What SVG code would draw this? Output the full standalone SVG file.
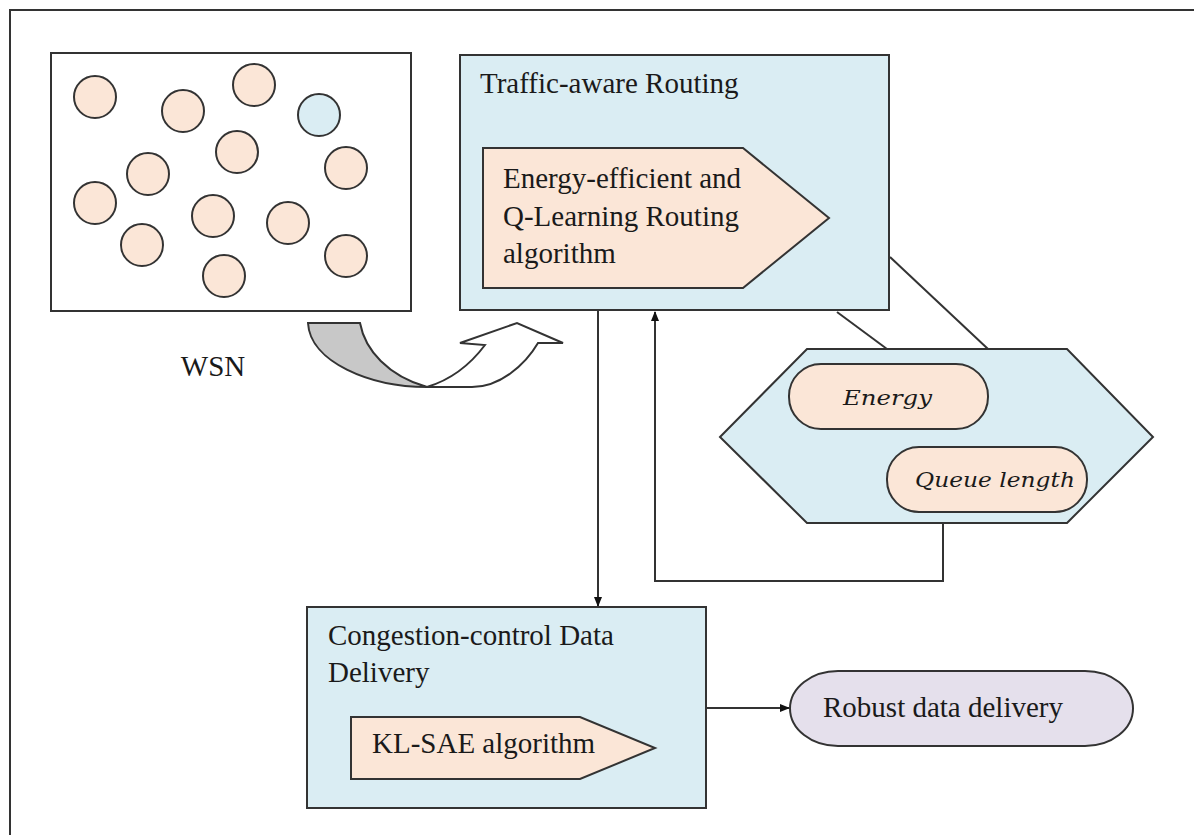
<svg xmlns="http://www.w3.org/2000/svg" width="1194" height="835" viewBox="0 0 1194 835">
<defs>
<style>
.t{font-family:"Liberation Serif","Times New Roman",serif;font-size:29px;fill:#1a1a1a}
.m{font-family:"DejaVu Serif",serif;font-style:italic;font-size:21px;fill:#1a1a1a}
.ln{fill:none;stroke:#333;stroke-width:2}
.peach{fill:#fbe6d7;stroke:#333;stroke-width:2}
.blue{fill:#daedf3;stroke:#333;stroke-width:2}
.node{fill:#fbe6d7;stroke:#333;stroke-width:2}
</style>
<marker id="ah" markerWidth="10" markerHeight="10" refX="9" refY="5" orient="auto" markerUnits="userSpaceOnUse">
<path d="M0,1 L10,5 L0,9 Z" fill="#111"/>
</marker>
</defs>
<rect width="1194" height="835" fill="#fff"/>
<rect x="10" y="10" width="1200" height="840" fill="none" stroke="#333" stroke-width="2"/>

<g id="wsn">
<rect x="51" y="53" width="360" height="258" fill="#fff" stroke="#333" stroke-width="2"/>
<circle class="node" cx="95" cy="97" r="21"/>
<circle class="node" cx="183" cy="111" r="21"/>
<circle class="node" cx="254" cy="85" r="21"/>
<circle cx="319" cy="115" r="21" fill="#daedf3" stroke="#333" stroke-width="2"/>
<circle class="node" cx="237" cy="152" r="21"/>
<circle class="node" cx="148" cy="174" r="21"/>
<circle class="node" cx="346" cy="168" r="21"/>
<circle class="node" cx="95" cy="203" r="21"/>
<circle class="node" cx="213" cy="216" r="21"/>
<circle class="node" cx="288" cy="223" r="21"/>
<circle class="node" cx="142" cy="245" r="21"/>
<circle class="node" cx="346" cy="256" r="21"/>
<circle class="node" cx="224" cy="276" r="21"/>
<text class="t" x="213" y="376" text-anchor="middle">WSN</text>
</g>

<g id="curved-arrow">
<path d="M308,323 L360,323 C365,350 388,376 427,387 C370,387 310,362 308,323 Z" fill="#c8c8c8" stroke="#333" stroke-width="2"/>
<path d="M427,387 L472,387 C500,387 525,365 538,343 L563,343 L517,323 L460,343 L485,345 C470,365 450,380 427,387 Z" fill="#fff" stroke="#333" stroke-width="2"/>
</g>

<g id="traffic-routing">
<rect class="blue" x="460" y="55" width="429" height="255"/>
<text class="t" x="480" y="93">Traffic-aware Routing</text>
<polygon class="peach" points="483,148 743,148 829,218 743,288 483,288"/>
<text class="t" x="503" y="188">Energy-efficient and</text>
<text class="t" x="503" y="226">Q-Learning Routing</text>
<text class="t" x="503" y="263">algorithm</text>
</g>

<g id="connectors">
<line class="ln" x1="837" y1="312" x2="887" y2="349"/>
<line class="ln" x1="890" y1="257" x2="988" y2="349"/>
<polyline class="ln" points="943,523 943,581 655,581 655,312" marker-end="url(#ah)"/>
<line class="ln" x1="598" y1="310" x2="598" y2="606" marker-end="url(#ah)"/>
<line class="ln" x1="706" y1="708" x2="789" y2="708" marker-end="url(#ah)"/>
</g>

<g id="metrics">
<polygon class="blue" points="720,437 807,349 1067,349 1153,437 1067,523 807,523"/>
<rect class="peach" x="789" y="364" width="199" height="65" rx="32" ry="32"/>
<text class="m" x="843" y="405" textLength="89" lengthAdjust="spacingAndGlyphs">Energy</text>
<rect class="peach" x="887" y="447" width="200" height="65" rx="32" ry="32"/>
<text class="m" x="915" y="487" textLength="160" lengthAdjust="spacingAndGlyphs">Queue length</text>
</g>

<g id="congestion">
<rect class="blue" x="307" y="607" width="399" height="201"/>
<text class="t" x="328" y="645">Congestion-control Data</text>
<text class="t" x="328" y="682">Delivery</text>
<polygon class="peach" points="351,717 580,717 655,748 580,779 351,779"/>
<text class="t" x="372" y="753">KL-SAE algorithm</text>
</g>

<g id="robust">
<rect x="790" y="671" width="343" height="75" rx="48" ry="37.5" fill="#e5e0ec" stroke="#333" stroke-width="2"/>
<text class="t" x="823" y="717">Robust data delivery</text>
</g>
</svg>
